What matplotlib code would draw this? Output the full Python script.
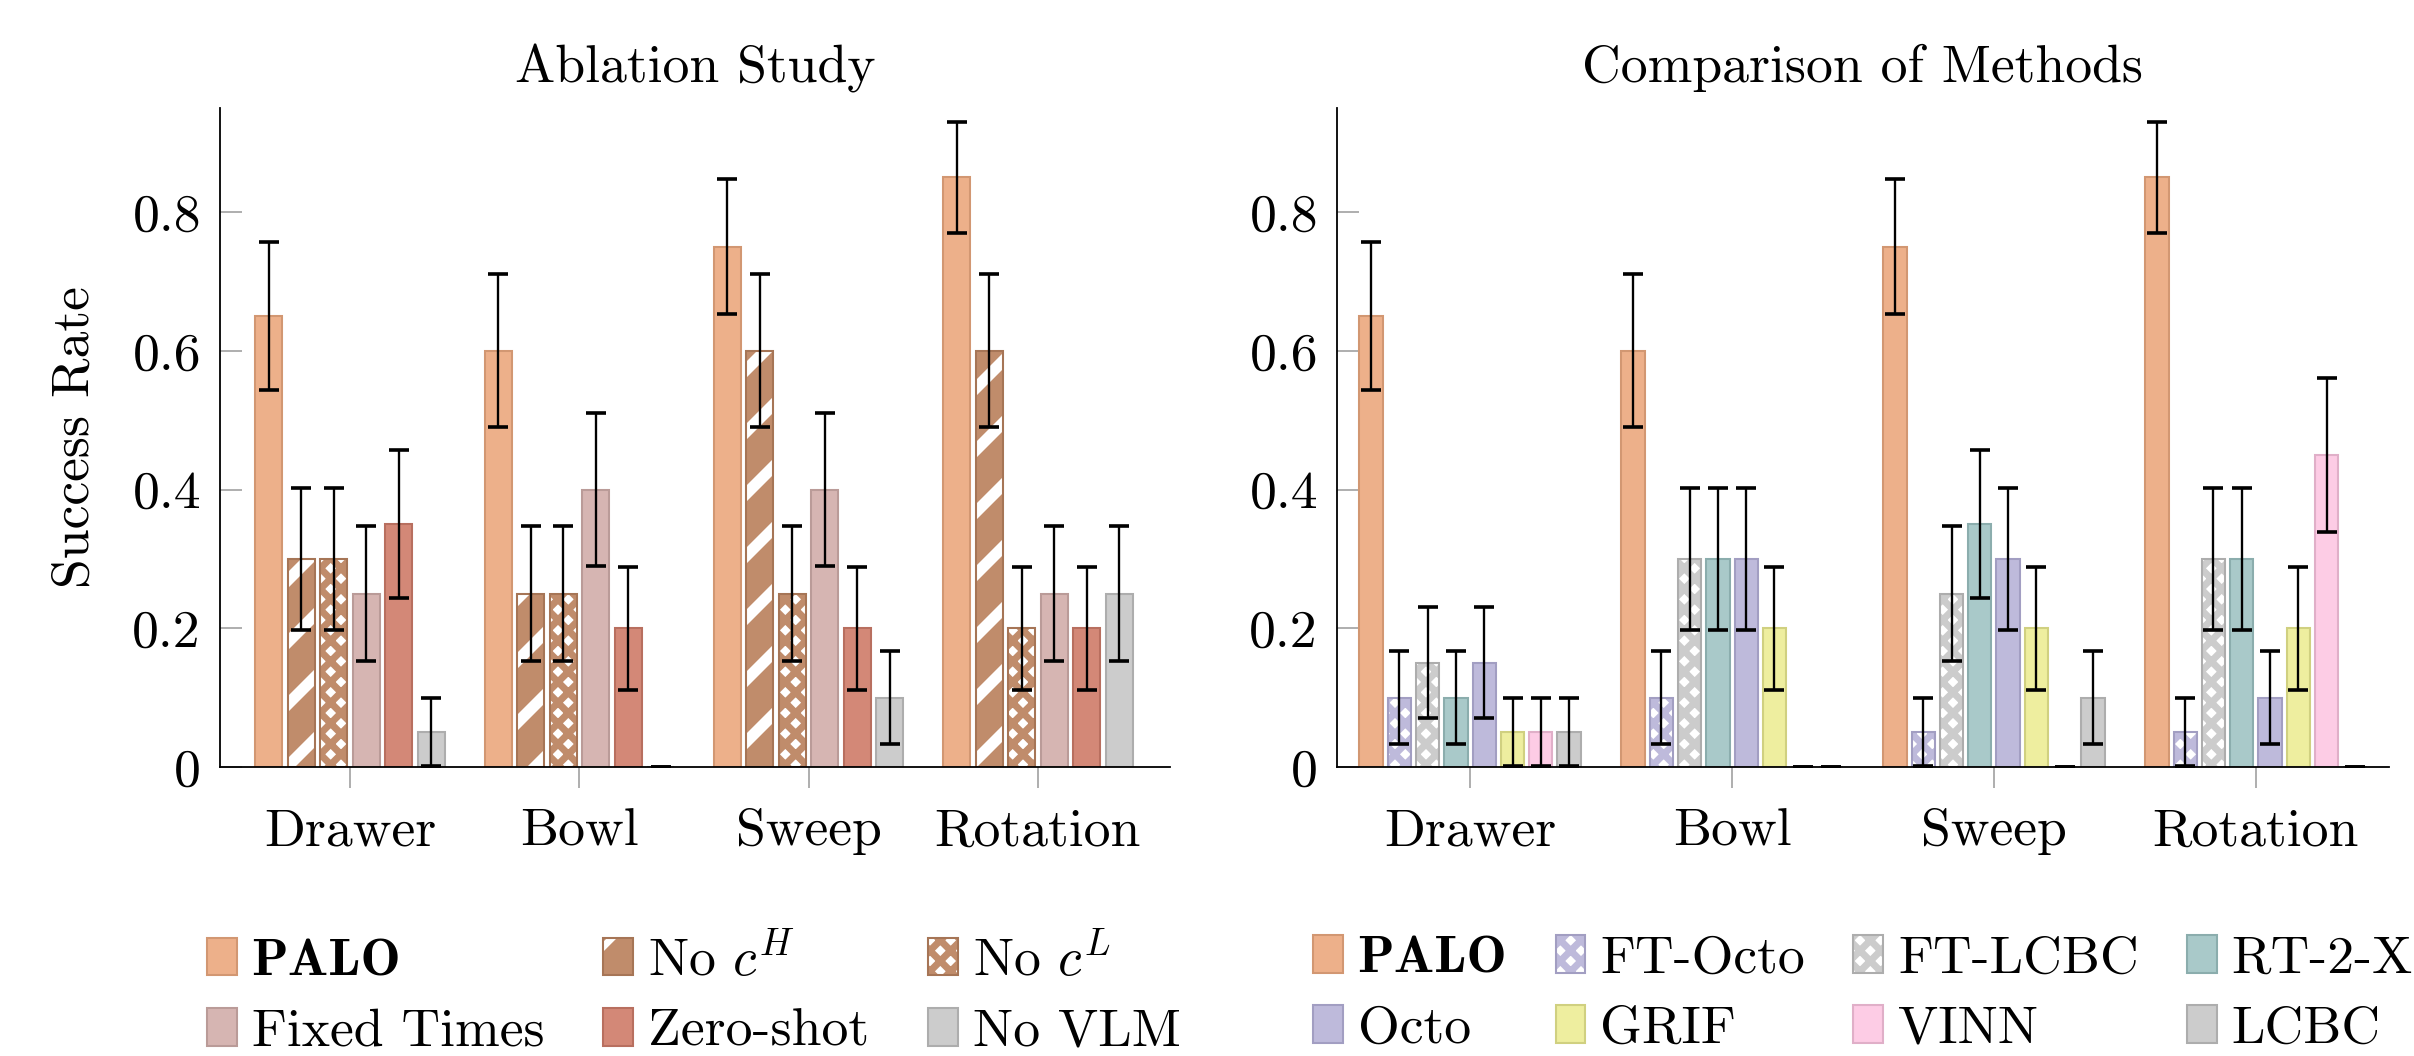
import matplotlib
matplotlib.use('Agg')
import matplotlib.pyplot as plt
import matplotlib.patches as mpatches
import numpy as np

plt.rcParams['font.family'] = ['cmr10', 'DejaVu Serif']
plt.rcParams['mathtext.fontset'] = 'cm'
plt.rcParams['axes.formatter.use_mathtext'] = True
plt.rcParams['font.size'] = 10.4
plt.rcParams['hatch.linewidth'] = 1.35

# ---- data ----
tasks = ['Drawer', 'Bowl', 'Sweep', 'Rotation']
yticks = [0, 0.2, 0.4, 0.6, 0.8]

# ablation study
palo = [0.65, 0.60, 0.75, 0.85]
no_ch = [0.30, 0.25, 0.60, 0.60]
no_cl = [0.30, 0.25, 0.25, 0.20]
fixed_times = [0.25, 0.40, 0.40, 0.25]
zero_shot = [0.35, 0.20, 0.20, 0.20]
no_vlm = [0.05, 0.00, 0.10, 0.25]

palo_err = [0.107, 0.110, 0.097, 0.080]
no_ch_err = [0.102, 0.097, 0.110, 0.110]
no_cl_err = [0.102, 0.097, 0.097, 0.089]
fixed_times_err = [0.097, 0.110, 0.110, 0.097]
zero_shot_err = [0.107, 0.089, 0.089, 0.089]
no_vlm_err = [0.049, 0.000, 0.067, 0.097]

# comparison of methods
ft_octo = [0.10, 0.10, 0.05, 0.05]
ft_lcbc = [0.15, 0.30, 0.25, 0.30]
rt2x = [0.10, 0.30, 0.35, 0.30]
octo = [0.15, 0.30, 0.30, 0.10]
grif = [0.05, 0.20, 0.20, 0.20]
vinn = [0.05, 0.00, 0.00, 0.45]
lcbc = [0.05, 0.00, 0.10, 0.00]

ft_octo_err = [0.067, 0.067, 0.049, 0.049]
ft_lcbc_err = [0.080, 0.102, 0.097, 0.102]
rt2x_err = [0.067, 0.102, 0.107, 0.102]
octo_err = [0.080, 0.102, 0.102, 0.067]
grif_err = [0.049, 0.089, 0.089, 0.089]
vinn_err = [0.049, 0.000, 0.000, 0.111]
lcbc_err = [0.049, 0.000, 0.067, 0.000]

# (label, values, errors, face, edge, pattern)
ablation = [
    ('PALO', palo, palo_err, '#EDB08A', '#D29772', None),
    (r'No $c^H$', no_ch, no_ch_err, '#C08C6B', '#A67556', 'stripe'),
    (r'No $c^L$', no_cl, no_cl_err, '#C08C6B', '#A67556', 'diamond'),
    ('Fixed Times', fixed_times, fixed_times_err, '#D6B5B2', '#BA9B98', None),
    ('Zero-shot', zero_shot, zero_shot_err, '#D38877', '#B86F5F', None),
    ('No VLM', no_vlm, no_vlm_err, '#CCCCCC', '#ADADAD', None),
]
comparison = [
    ('PALO', palo, palo_err, '#EDB08A', '#D29772', None),
    ('FT-Octo', ft_octo, ft_octo_err, '#BEBADB', '#A29EC2', 'diamond'),
    ('FT-LCBC', ft_lcbc, ft_lcbc_err, '#CCCCCC', '#ADADAD', 'diamond'),
    ('RT-2-X', rt2x, rt2x_err, '#A9C9C9', '#8BADAD', None),
    ('Octo', octo, octo_err, '#BEBADB', '#A29EC2', None),
    ('GRIF', grif, grif_err, '#EEEE9F', '#D0D080', None),
    ('VINN', vinn, vinn_err, '#FDCCE5', '#E0AFC8', None),
    ('LCBC', lcbc, lcbc_err, '#CCCCCC', '#ADADAD', None),
]

EDGE_LW = 0.4
# hatch spacing in agg is dpi / (3 * count), so these give ~62px stripes, ~21px diamonds
STRIPE = '//'
DIAMOND = 'xxxxxx'
STRIPE_LW = 2.2
DIAMOND_LW = 1.35


def set_hlw(artist, lw):
    if hasattr(artist, 'set_hatch_linewidth'):
        artist.set_hatch_linewidth(lw)


def make_handle(face, edge, pattern):
    if pattern is None:
        return mpatches.Patch(facecolor=face, edgecolor=edge, linewidth=EDGE_LW)
    if pattern == 'stripe':
        p = mpatches.Patch(facecolor=face, edgecolor='white', hatch=STRIPE, linewidth=0)
        set_hlw(p, STRIPE_LW)
    else:
        p = mpatches.Patch(facecolor='white', edgecolor=face, hatch=DIAMOND, linewidth=0)
        set_hlw(p, DIAMOND_LW)
    o = mpatches.Patch(facecolor='none', edgecolor=edge, linewidth=EDGE_LW)
    return (p, o)


def draw_panel(ax, series, pitch, width, xlim, title):
    x = np.arange(len(tasks))
    n = len(series)
    handles, labels = [], []
    for i, (label, vals, errs, face, edge, pattern) in enumerate(series):
        xs = x + (i - (n - 1) / 2) * pitch
        if pattern is None:
            ax.bar(xs, vals, width, color=face, edgecolor=edge, linewidth=EDGE_LW, zorder=2)
        else:
            if pattern == 'stripe':
                bars = ax.bar(xs, vals, width, color=face, edgecolor='white',
                              hatch=STRIPE, linewidth=0, zorder=2)
                for b in bars:
                    set_hlw(b, STRIPE_LW)
            else:
                bars = ax.bar(xs, vals, width, color='white', edgecolor=face,
                              hatch=DIAMOND, linewidth=0, zorder=2)
                for b in bars:
                    set_hlw(b, DIAMOND_LW)
            ax.bar(xs, vals, width, fill=False, edgecolor=edge, linewidth=EDGE_LW, zorder=2.1)
        ax.errorbar(xs, vals, yerr=errs, fmt='none', ecolor='black',
                    elinewidth=0.45, capsize=1.95, capthick=0.7, zorder=3)
        handles.append(make_handle(face, edge, pattern))
        labels.append(label)

    ax.set_xlim(*xlim)
    ax.set_ylim(0, 0.95)
    ax.set_xticks(x)
    ax.set_xticklabels(tasks)
    ax.set_yticks(yticks)
    ax.set_yticklabels(['%g' % v for v in yticks])
    ax.spines['top'].set_visible(False)
    ax.spines['right'].set_visible(False)
    for s in ('left', 'bottom'):
        ax.spines[s].set_linewidth(0.35)
        ax.spines[s].set_zorder(4)
    ax.tick_params(axis='y', direction='in', length=4.3, width=0.3,
                   color='#999999', pad=3.7)
    ax.tick_params(axis='x', direction='out', length=4.0, width=0.3,
                   color='#999999', pad=4.0)
    ax.set_title(title, pad=5, fontsize=10.4)
    return handles, labels


fig = plt.figure(figsize=(2414 / 372, 1056 / 372), dpi=372)
ax1 = fig.add_axes([220 / 2414, 1 - 767 / 1056, 950 / 2414, 659 / 1056])
ax2 = fig.add_axes([1337 / 2414, 1 - 767 / 1056, 1052 / 2414, 659 / 1056])

h1, l1 = draw_panel(ax1, ablation, 0.1418, 0.118, (-0.567, 3.576), 'Ablation Study')
h2, l2 = draw_panel(ax2, comparison, 0.108, 0.089, (-0.508, 3.508), 'Comparison of Methods')
ax1.set_ylabel('Success Rate', labelpad=6.5)


def col_major(items, ncol):
    nrow = 2
    return [items[r * ncol + c] for c in range(ncol) for r in range(nrow)]


for h, l, ncol, x0, cs in [(h1, l1, 3, 207 / 2414, 1.1), (h2, l2, 4, 1313 / 2414, 0.9)]:
    leg = fig.legend(col_major(h, ncol), col_major(l, ncol), ncol=ncol,
                     loc='center left', bbox_to_anchor=(x0, 1 - 994 / 1056),
                     frameon=False, borderpad=0, borderaxespad=0,
                     handlelength=0.55, handleheight=0.7, handletextpad=0.28,
                     columnspacing=cs, labelspacing=0.42)
    for t in leg.get_texts():
        if t.get_text() == 'PALO':
            t.set_fontfamily('cmb10')

fig.savefig('out.png', dpi=372)
